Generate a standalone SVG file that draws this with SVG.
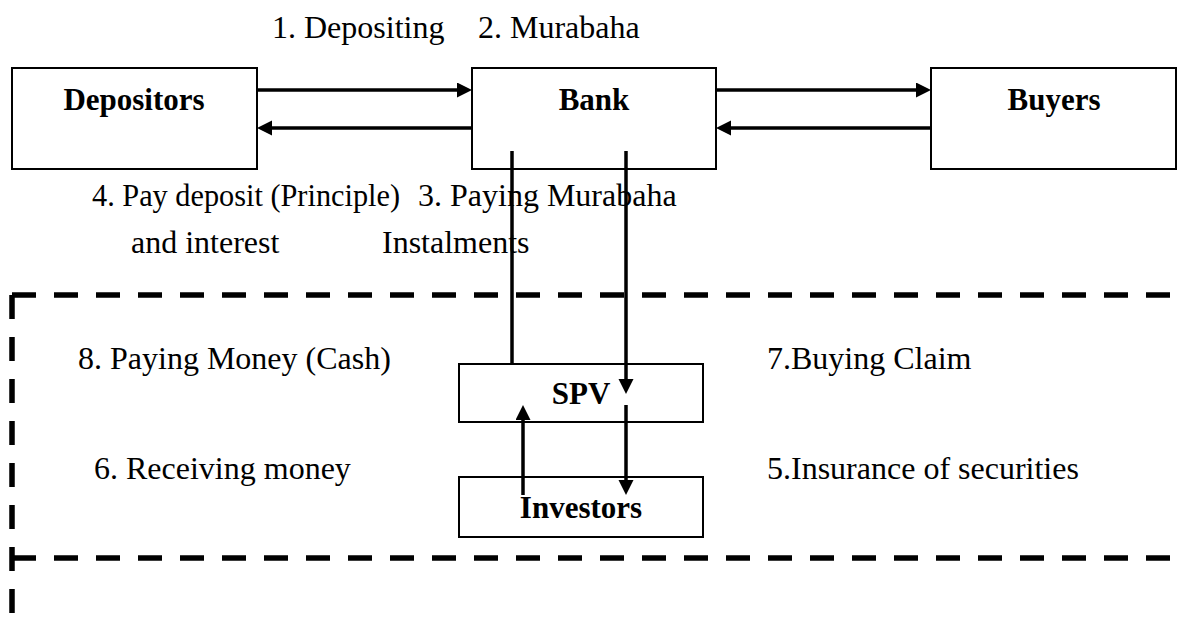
<svg xmlns="http://www.w3.org/2000/svg" width="1186" height="631" viewBox="0 0 1186 631">
  <style>
    .box { fill: #ffffff; stroke: #000000; stroke-width: 2; }
    .name { font-family: "Liberation Serif", "Times New Roman", serif; font-size: 31px; font-weight: bold; fill: #000000; text-anchor: middle; }
    .lbl { font-family: "Liberation Serif", "Times New Roman", serif; font-size: 32px; fill: #000000; }
    .flow { fill: none; stroke: #000000; stroke-width: 3.5; }
    .bound { fill: none; stroke: #000000; stroke-width: 5.5; stroke-dasharray: 24 18; }
  </style>
  <defs>
    <marker id="head" markerUnits="userSpaceOnUse" markerWidth="16" markerHeight="16" refX="2" refY="7.5" orient="auto">
      <path d="M0,0 L15,7.5 L0,15 Z" fill="#000000"/>
    </marker>
  </defs>

  <rect width="1186" height="631" fill="#ffffff"/>

  <!-- dashed boundary of the securitisation block -->
  <g id="boundary">
    <line class="bound" x1="12" y1="295" x2="1172" y2="295"/>
    <line class="bound" x1="12" y1="558" x2="1172" y2="558"/>
    <line class="bound" x1="12" y1="295" x2="12" y2="614"/>
  </g>

  <!-- nodes -->
  <g id="depositors">
    <rect class="box" x="12" y="68" width="245" height="101"/>
    <text class="name" x="134" y="110">Depositors</text>
  </g>
  <g id="bank">
    <rect class="box" x="472" y="68" width="244" height="101"/>
    <text class="name" x="594" y="110">Bank</text>
  </g>
  <g id="buyers">
    <rect class="box" x="931" y="68" width="245" height="101"/>
    <text class="name" x="1054" y="110">Buyers</text>
  </g>
  <g id="spv">
    <rect class="box" x="459" y="364" width="244" height="58"/>
    <text class="name" x="581" y="404">SPV</text>
  </g>
  <g id="investors">
    <rect class="box" x="459" y="477" width="244" height="60"/>
    <text class="name" x="581" y="518">Investors</text>
  </g>

  <!-- connectors -->
  <g id="connectors">
    <line class="flow" x1="257" y1="90" x2="459" y2="90" marker-end="url(#head)"/>
    <line class="flow" x1="472" y1="128" x2="270" y2="128" marker-end="url(#head)"/>
    <line class="flow" x1="716" y1="90" x2="918" y2="90" marker-end="url(#head)"/>
    <line class="flow" x1="931" y1="128" x2="729" y2="128" marker-end="url(#head)"/>
    <line class="flow" x1="512" y1="151" x2="512" y2="364"/>
    <line class="flow" x1="626" y1="151" x2="626" y2="381" marker-end="url(#head)"/>
    <line class="flow" x1="626" y1="405" x2="626" y2="482" marker-end="url(#head)"/>
    <line class="flow" x1="523" y1="495" x2="523" y2="418" marker-end="url(#head)"/>
  </g>

  <!-- step labels -->
  <g id="labels">
    <text class="lbl" x="272" y="38">1. Depositing</text>
    <text class="lbl" x="478" y="38">2. Murabaha</text>
    <text class="lbl" x="92" y="206" textLength="308" lengthAdjust="spacingAndGlyphs">4. Pay deposit (Principle)</text>
    <text class="lbl" x="418" y="206">3. Paying Murabaha</text>
    <text class="lbl" x="131" y="253">and interest</text>
    <text class="lbl" x="382" y="253">Instalments</text>
    <text class="lbl" x="78" y="369">8. Paying Money (Cash)</text>
    <text class="lbl" x="767" y="369">7.Buying Claim</text>
    <text class="lbl" x="94" y="479">6. Receiving money</text>
    <text class="lbl" x="767" y="479">5.Insurance of securities</text>
  </g>
</svg>
